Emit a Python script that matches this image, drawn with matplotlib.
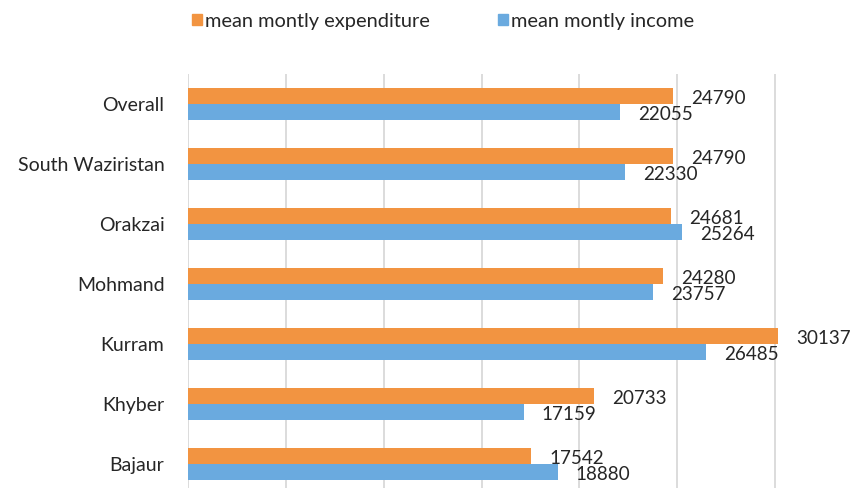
import matplotlib
matplotlib.use("Agg")
import matplotlib.pyplot as plt
from matplotlib.patches import Patch
import numpy as np

plt.rcParams['font.family'] = ['Lato', 'DejaVu Sans']

categories = ["Bajaur", "Khyber", "Kurram", "Mohmand", "Orakzai", "South Waziristan", "Overall"]
expenditure = [17542, 20733, 30137, 24280, 24681, 24790, 24790]
income = [18880, 17159, 26485, 23757, 25264, 22330, 22055]
series_names = ["mean montly expenditure", "mean montly income"]

c_exp = "#F29441"
c_inc = "#6AAADF"

W, H = 853, 488
fig = plt.figure(figsize=(W / 100, H / 100), dpi=100)
left = 188 / W
bottom_px = 494
ax = fig.add_axes([left, 1 - bottom_px / H, (873 - 188) / W, (bottom_px - 74) / H])

y = np.arange(len(categories))
h = 0.267
ax.barh(y + h / 2, expenditure, height=h, color=c_exp, zorder=3)
ax.barh(y - h / 2, income, height=h, color=c_inc, zorder=3)

for yi, v in zip(y, expenditure):
    ax.annotate(str(v), (v, yi + h / 2), xytext=(13, -2), textcoords="offset points",
                va="center", ha="left", fontsize=13.6, color="#262626")
for yi, v in zip(y, income):
    ax.annotate(str(v), (v, yi - h / 2), xytext=(13, -2), textcoords="offset points",
                va="center", ha="left", fontsize=13.6, color="#262626")

ax.set_xlim(0, 35000)
ax.set_ylim(-0.5, len(categories) - 0.5)
ax.set_xticks(np.arange(0, 35001, 5000))
ax.set_yticks(y)
ax.set_yticklabels(categories, fontsize=14, color="#262626")
ax.tick_params(axis="y", length=0, pad=17)
ax.tick_params(axis="x", length=0, labelbottom=False)
ax.grid(axis="x", color="#D9D9D9", linewidth=1.3, zorder=0)
for s in ax.spines.values():
    s.set_visible(False)

handles = [Patch(color=c_exp), Patch(color=c_inc)]
fig.legend(handles, series_names, loc="center", bbox_to_anchor=(0.5193, 1 - 21 / H), ncol=2,
           frameon=False, fontsize=14.4, handlelength=0.5, handleheight=0.5,
           handletextpad=0.15, columnspacing=3.4, labelcolor="#262626")

fig.savefig("out.png", dpi=100)
